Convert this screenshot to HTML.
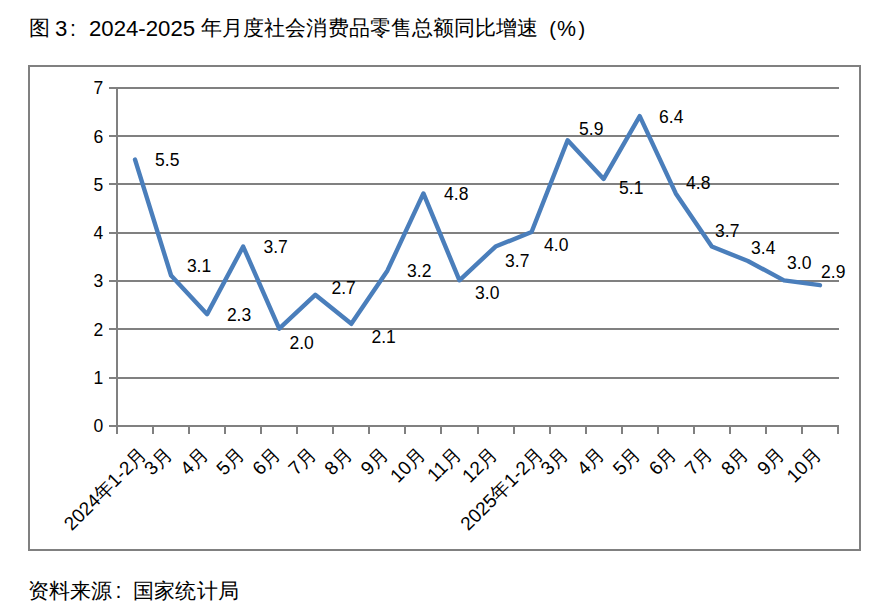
<!DOCTYPE html>
<html><head><meta charset="utf-8"><style>
html,body{margin:0;padding:0;background:#fff;}
body{width:885px;height:612px;overflow:hidden;position:relative;font-family:"Liberation Sans",sans-serif;}
svg{position:absolute;left:0;top:0;}
.t{position:absolute;white-space:nowrap;color:#000;font-size:21.33px;line-height:1;}
</style></head><body>
<div class="t" id="t1" style="left:28.7px;top:18.3px;">图</div>
<div class="t" id="t2" style="left:54.9px;top:17.5px;font-size:22.2px;">3</div>
<div class="t" id="t3" style="left:70px;top:19px;">:</div>
<div class="t" id="t4" style="left:89px;top:17.5px;font-size:22.2px;">2024-2025</div>
<div class="t" id="t5" style="left:201px;top:18.3px;letter-spacing:0.09px;">年月度社会消费品零售总额同比增速</div>
<div class="t" id="t6" style="left:549.3px;top:18.5px;font-size:20px;">(</div>
<div class="t" id="t7" style="left:557px;top:19px;">%</div>
<div class="t" id="t8" style="left:578.6px;top:18.5px;font-size:20px;">)</div>
<div class="t" id="f1" style="left:27.5px;top:580.5px;">资料来源</div>
<div class="t" id="f2" style="left:115.5px;top:580.5px;">:</div>
<div class="t" id="f3" style="left:133px;top:580.5px;letter-spacing:0.2px;">国家统计局</div>
<svg width="885" height="612" viewBox="0 0 885 612">
<rect x="29" y="66" width="831" height="484" fill="none" stroke="#808080" stroke-width="2"/>
<g stroke="#808080" stroke-width="2">
<line x1="109" y1="426" x2="839" y2="426"/>
<line x1="109" y1="378" x2="839" y2="378"/>
<line x1="109" y1="329" x2="839" y2="329"/>
<line x1="109" y1="281" x2="839" y2="281"/>
<line x1="109" y1="233" x2="839" y2="233"/>
<line x1="109" y1="184" x2="839" y2="184"/>
<line x1="109" y1="136" x2="839" y2="136"/>
<line x1="109" y1="88" x2="839" y2="88"/>

<line x1="117" y1="88" x2="117" y2="426"/>
<line x1="117" y1="426" x2="117" y2="434"/>
<line x1="153" y1="426" x2="153" y2="434"/>
<line x1="189" y1="426" x2="189" y2="434"/>
<line x1="225" y1="426" x2="225" y2="434"/>
<line x1="261" y1="426" x2="261" y2="434"/>
<line x1="297" y1="426" x2="297" y2="434"/>
<line x1="333" y1="426" x2="333" y2="434"/>
<line x1="369" y1="426" x2="369" y2="434"/>
<line x1="405" y1="426" x2="405" y2="434"/>
<line x1="441" y1="426" x2="441" y2="434"/>
<line x1="478" y1="426" x2="478" y2="434"/>
<line x1="514" y1="426" x2="514" y2="434"/>
<line x1="550" y1="426" x2="550" y2="434"/>
<line x1="586" y1="426" x2="586" y2="434"/>
<line x1="622" y1="426" x2="622" y2="434"/>
<line x1="658" y1="426" x2="658" y2="434"/>
<line x1="694" y1="426" x2="694" y2="434"/>
<line x1="730" y1="426" x2="730" y2="434"/>
<line x1="766" y1="426" x2="766" y2="434"/>
<line x1="802" y1="426" x2="802" y2="434"/>
<line x1="838" y1="426" x2="838" y2="434"/>

</g>
<polyline points="135.03,159.63 171.07,275.51 207.12,314.14 243.17,246.54 279.23,328.63 315.27,294.83 351.32,323.80 387.38,270.69 423.42,193.43 459.47,280.34 495.52,246.54 531.58,232.06 567.62,140.31 603.67,178.94 639.72,116.17 675.77,193.43 711.82,246.54 747.88,261.03 783.92,280.34 819.97,285.17" fill="none" stroke="#4a7ebb" stroke-width="4.4" stroke-linejoin="round" stroke-linecap="round"/>
<g font-family="Liberation Sans, sans-serif" font-size="17.5" fill="#000">
<text id="y0" x="93.5" y="432.2">0</text>
<text id="y1" x="93.5" y="383.9">1</text>
<text id="y2" x="93.5" y="335.6">2</text>
<text id="y3" x="93.5" y="287.3">3</text>
<text id="y4" x="93.5" y="239.1">4</text>
<text id="y5" x="93.5" y="190.8">5</text>
<text id="y6" x="93.5" y="142.5">6</text>
<text id="y7" x="93.5" y="94.2">7</text>

<text id="d0" x="155.1" y="165.6">5.5</text>
<text id="d1" x="186.9" y="271.6">3.1</text>
<text id="d2" x="226.9" y="321.2">2.3</text>
<text id="d3" x="263.5" y="252.6">3.7</text>
<text id="d4" x="289.5" y="348.6">2.0</text>
<text id="d5" x="331.5" y="293.6">2.7</text>
<text id="d6" x="371.5" y="342.6">2.1</text>
<text id="d7" x="407.1" y="276.6">3.2</text>
<text id="d8" x="444.1" y="199.6">4.8</text>
<text id="d9" x="475.1" y="298.6">3.0</text>
<text id="d10" x="505.1" y="266.6">3.7</text>
<text id="d11" x="544.1" y="250.6">4.0</text>
<text id="d12" x="579.1" y="134.6">5.9</text>
<text id="d13" x="619.1" y="193.6">5.1</text>
<text id="d14" x="659.1" y="123.2">6.4</text>
<text id="d15" x="686.1" y="189.2">4.8</text>
<text id="d16" x="715.1" y="236.6">3.7</text>
<text id="d17" x="751.1" y="253.6">3.4</text>
<text id="d18" x="787.1" y="268.6">3.0</text>
<text id="d19" x="821.1" y="277.6">2.9</text>

</g>
<g id="xl" font-family="Liberation Sans, sans-serif" font-size="19" fill="#000">
<text transform="translate(147.9,455.4) rotate(-45)" text-anchor="end">2024年1-2月</text>
<text transform="translate(173.0,455.4) rotate(-45)" text-anchor="end">3月</text>
<text transform="translate(209.0,455.4) rotate(-45)" text-anchor="end">4月</text>
<text transform="translate(245.1,455.4) rotate(-45)" text-anchor="end">5月</text>
<text transform="translate(281.1,455.4) rotate(-45)" text-anchor="end">6月</text>
<text transform="translate(317.2,455.4) rotate(-45)" text-anchor="end">7月</text>
<text transform="translate(353.2,455.4) rotate(-45)" text-anchor="end">8月</text>
<text transform="translate(389.3,455.4) rotate(-45)" text-anchor="end">9月</text>
<text transform="translate(426.3,455.4) rotate(-45)" text-anchor="end">10月</text>
<text transform="translate(462.4,455.4) rotate(-45)" text-anchor="end">11月</text>
<text transform="translate(498.4,455.4) rotate(-45)" text-anchor="end">12月</text>
<text transform="translate(544.5,455.4) rotate(-45)" text-anchor="end">2025年1-2月</text>
<text transform="translate(569.5,455.4) rotate(-45)" text-anchor="end">3月</text>
<text transform="translate(605.6,455.4) rotate(-45)" text-anchor="end">4月</text>
<text transform="translate(641.6,455.4) rotate(-45)" text-anchor="end">5月</text>
<text transform="translate(677.7,455.4) rotate(-45)" text-anchor="end">6月</text>
<text transform="translate(713.7,455.4) rotate(-45)" text-anchor="end">7月</text>
<text transform="translate(749.8,455.4) rotate(-45)" text-anchor="end">8月</text>
<text transform="translate(785.8,455.4) rotate(-45)" text-anchor="end">9月</text>
<text transform="translate(822.9,455.4) rotate(-45)" text-anchor="end">10月</text>

</g>
</svg>
</body></html>
